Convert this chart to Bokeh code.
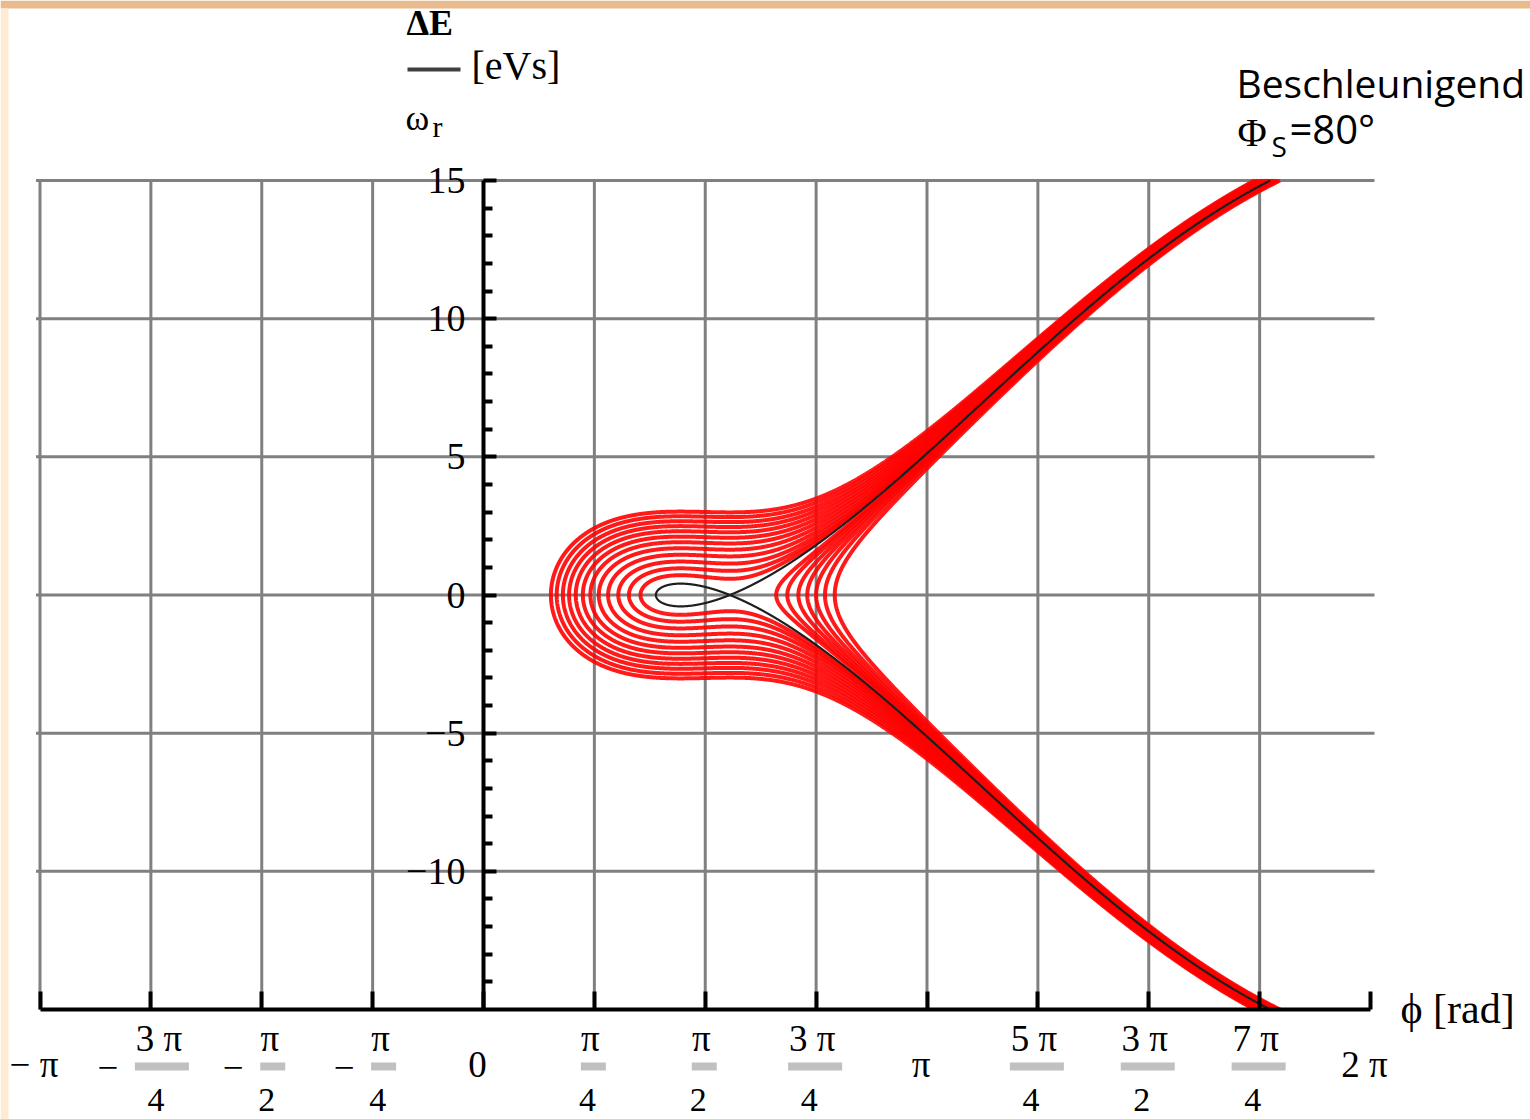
import numpy as np
from bokeh.plotting import figure
from bokeh.models import Range1d, LinearAxis, FixedTicker
from bokeh.core.properties import value
from bokeh.embed import file_html
from bokeh.resources import INLINE

# ---------------- values ----------------
PHI_S_DEG = 80.0                 # synchronous phase, from the caption
SEPARATRIX_Y_AT_7PI4 = 14.8      # dE/w_r of the separatrix at phi = 7pi/4
# phases (in units of pi) where the red trajectories turn round, read on the phi axis
LEFT_TURNING_POINTS = [0.152, 0.165, 0.179, 0.193, 0.208, 0.224, 0.241,
                       0.260, 0.281, 0.304, 0.328, 0.354]
RIGHT_TURNING_POINTS = [0.66, 0.685, 0.71, 0.73, 0.75, 0.77, 0.792]
X_TICKS = [-1.0, -0.75, -0.5, -0.25, 0.0, 0.25, 0.5, 0.75, 1.0, 1.25, 1.5, 1.75, 2.0]  # units of pi
X_TICK_LABELS = ["-π", "-3π/4", "-π/2", "-π/4", "0", "π/4", "π/2", "3π/4",
                 "π", "5π/4", "3π/2", "7π/4", "2π"]
Y_TICKS = [-10, -5, 0, 5, 10, 15]
Y_TICK_LABELS = ["−10", "−5", "0", "5", "10", "15"]
Y_MINOR_TICKS = [-14, -13, -12, -11, -9, -8, -7, -6, -4, -3, -2, -1,
                 1, 2, 3, 4, 6, 7, 8, 9, 11, 12, 13, 14]
Y_MIN, Y_MAX = -15, 15
TITLE = "Beschleunigend"

# ---------------- page geometry (pixel -> data helpers for text placement) ----------------
W, H = 1530, 1119
X0_PX, PX_PER_PI = 483.0, 443.5
Y0_PX, PX_PER_Y = 594.5, 27.63


def xd(px):
    return (px - X0_PX) / PX_PER_PI * np.pi


def yd(px):
    return (Y0_PX - px) / PX_PER_Y


def dx(px):
    return px / PX_PER_PI * np.pi


# ---------------- phase-space trajectories ----------------
phi_s = np.radians(PHI_S_DEG)
phi_u = np.pi - phi_s


def S(phi):
    return np.cos(phi) + phi * np.sin(phi_s)


s_u = S(phi_u)
K = SEPARATRIX_Y_AT_7PI4 ** 2 / (2.0 * (S(1.75 * np.pi) - s_u))


def trajectory(level, phi_start):
    u = np.linspace(0.0, 1.0, 3000)
    phi = phi_start + (2.0 * np.pi - phi_start) * u ** 2
    y = np.sqrt(np.maximum(0.0, 2.0 * K * (S(phi) - level)))
    over = np.nonzero(y > Y_MAX)[0]
    if len(over):
        i = over[0]
        pc = phi[i - 1] + (Y_MAX - y[i - 1]) * (phi[i] - phi[i - 1]) / (y[i] - y[i - 1])
        phi = np.append(phi[:i], pc)
        y = np.append(y[:i], Y_MAX)
    xs = np.concatenate([phi[::-1], phi[1:]])
    ys = np.concatenate([y[::-1], -y[1:]])
    return list(xs), list(ys)


red_xs, red_ys = [], []
for t in LEFT_TURNING_POINTS + RIGHT_TURNING_POINTS:
    pt = t * np.pi
    xs_, ys_ = trajectory(S(pt), pt)
    red_xs.append(xs_)
    red_ys.append(ys_)

# left end of the separatrix (S(phi) = S(phi_u) on the rising side)
lo, hi = 0.0, phi_s
for _ in range(80):
    mid = 0.5 * (lo + hi)
    if S(mid) < s_u:
        lo = mid
    else:
        hi = mid
sep_x, sep_y = trajectory(s_u, 0.5 * (lo + hi))

# ---------------- figure ----------------
p = figure(width=W, height=H, x_range=Range1d(xd(0), xd(W)), y_range=Range1d(yd(H), yd(0)),
           output_backend="svg", toolbar_location=None, min_border=0,
           x_axis_type=None, y_axis_type=None, outline_line_color=None,
           background_fill_color="white", border_fill_color="white")

# slide background strips
p.quad(left=[xd(0)], right=[xd(W)], top=[yd(0)], bottom=[yd(8)], color="#e8ba8c", line_color=None)
p.quad(left=[xd(0)], right=[xd(8)], top=[yd(8)], bottom=[yd(H)], color="#fdecd2", line_color=None)

# grid lines
vx = [t * np.pi for t in X_TICKS if t < 2.0]
p.segment(x0=vx, y0=[Y_MIN] * len(vx), x1=vx, y1=[Y_MAX] * len(vx),
          line_color="#808080", line_width=3)
p.segment(x0=[X_TICKS[0] * np.pi - dx(4)] * len(Y_TICKS), y0=Y_TICKS,
          x1=[X_TICKS[-1] * np.pi + dx(4)] * len(Y_TICKS), y1=Y_TICKS,
          line_color="#808080", line_width=3)

# trajectories
p.multi_line(xs=red_xs, ys=red_ys, line_color="#ff0000", line_width=4, line_alpha=0.9)
p.line(sep_x, sep_y, line_color="#1e1e1e", line_width=2.2)

# axes
yaxis = LinearAxis(fixed_location=0, bounds=(Y_MIN, Y_MAX),
                   ticker=FixedTicker(ticks=Y_TICKS, minor_ticks=Y_MINOR_TICKS),
                   axis_line_width=4, axis_line_color="black",
                   major_tick_in=13, major_tick_out=0, major_tick_line_width=4,
                   minor_tick_in=9, minor_tick_out=0, minor_tick_line_width=4,
                   major_label_standoff=18,
                   major_label_text_font="Liberation Serif",
                   major_label_text_font_size="38px",
                   major_label_text_color="black",
                   major_label_overrides={v: l for v, l in zip(Y_TICKS, Y_TICK_LABELS)})
p.add_layout(yaxis, "left")

xaxis = LinearAxis(fixed_location=Y_MIN, bounds=(X_TICKS[0] * np.pi, X_TICKS[-1] * np.pi),
                   ticker=FixedTicker(ticks=[t * np.pi for t in X_TICKS], minor_ticks=[]),
                   axis_line_width=4, axis_line_color="black",
                   major_tick_in=18, major_tick_out=0, major_tick_line_width=4,
                   minor_tick_in=0, minor_tick_out=0,
                   major_label_text_color=None, major_label_text_font_size="1px")
p.add_layout(xaxis, "below")

# x tick labels (stacked fractions)
FONT = value("Liberation Serif")
single_x, single_y, single_t = [], [], []
num_x, num_y, num_t = [], [], []
den_x, den_y, den_t = [], [], []
bar_x, bar_y, bar_w = [], [], []
neg_x, neg_y = [], []
for t, lbl in zip(X_TICKS, X_TICK_LABELS):
    neg = lbl.startswith("-")
    body = lbl[1:] if neg else lbl
    xt = t * np.pi
    if "/" in body:
        num, den = body.split("/")
        if num != "π":
            num = num.replace("π", " π")
        shift = 10 if neg else -2
        w = 25 if num == "π" else 54
        num_x.append(xt + dx(shift - 2))
        num_y.append(yd(1038))
        num_t.append(num)
        den_x.append(xt + dx(shift - 5))
        den_y.append(yd(1099))
        den_t.append(den)
        bar_x.append(xt + dx(shift + 1))
        bar_y.append(yd(1066))
        bar_w.append(w)
        if neg:
            neg_x.append(xt + dx(shift + 1 - w / 2 - 27))
            neg_y.append(yd(1067))
    else:
        if neg:
            txt = "− " + body
        elif body != "π" and body.endswith("π"):
            txt = body.replace("π", " π")
        else:
            txt = body
        single_x.append(xt + dx(-6))
        single_y.append(yd(1064))
        single_t.append(txt)

p.rect(x=bar_x, y=bar_y, width=bar_w, height=[8] * len(bar_x),
       width_units="screen", height_units="screen",
       fill_color="#c0c0c0", line_color=None)
for xs_, ys_, ts_, fs in [(single_x, single_y, single_t, "37px"),
                          (num_x, num_y, num_t, "37px"),
                          (den_x, den_y, den_t, "34px"),
                          (neg_x, neg_y, ["−"] * len(neg_x), "37px")]:
    p.text(x=xs_, y=ys_, text=ts_, text_font=FONT, text_font_size=value(fs),
           text_align="center", text_baseline="middle", text_color="black")

# axis titles
p.text(x=[xd(1400)], y=[yd(1008)], text=["ϕ [rad]"], text_font=FONT,
       text_font_size=value("42px"), text_align="left", text_baseline="middle",
       text_color="black")
p.text(x=[xd(406)], y=[yd(22)], text=["ΔE"], text_font=FONT, text_font_style="bold",
       text_font_size=value("36px"), text_align="left", text_baseline="middle",
       text_color="black")
p.segment(x0=[xd(407)], y0=[yd(69)], x1=[xd(460)], y1=[yd(69)], line_color="#404040", line_width=4)
p.text(x=[xd(471)], y=[yd(65)], text=["[eVs]"], text_font=FONT,
       text_font_size=value("40px"), text_align="left", text_baseline="middle",
       text_color="black")
p.text(x=[xd(405)], y=[yd(117)], text=["ω"], text_font=FONT,
       text_font_size=value("36px"), text_align="left", text_baseline="middle",
       text_color="black")
p.text(x=[xd(432)], y=[yd(126)], text=["r"], text_font=FONT,
       text_font_size=value("30px"), text_align="left", text_baseline="middle",
       text_color="black")

# caption
SANS = value("Open Sans")
p.text(x=[xd(1236)], y=[yd(82)], text=[TITLE], text_font=SANS,
       text_font_size=value("39px"), text_align="left", text_baseline="middle",
       text_color="black")
p.text(x=[xd(1237)], y=[yd(132)], text=["Φ"], text_font=FONT,
       text_font_size=value("40px"), text_align="left", text_baseline="middle",
       text_color="black")
p.text(x=[xd(1271)], y=[yd(145)], text=["S"], text_font=SANS,
       text_font_size=value("28px"), text_align="left", text_baseline="middle",
       text_color="black")
p.text(x=[xd(1289)], y=[yd(128)], text=["=%d°" % int(PHI_S_DEG)], text_font=SANS,
       text_font_size=value("40px"), text_align="left", text_baseline="middle",
       text_color="black")

open("out.html", "w").write(file_html(p, INLINE))
